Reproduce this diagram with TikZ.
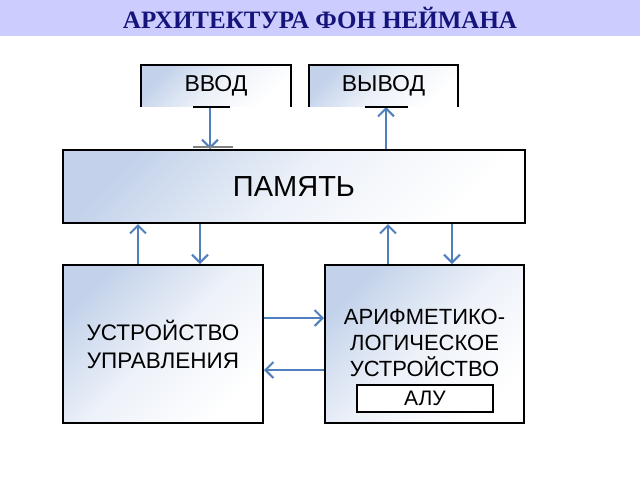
\documentclass[tikz,border=0pt]{standalone}
\usepackage{fontspec}
\setmainfont{Liberation Sans}
\newfontfamily\titlefont{Liberation Serif}
\usepackage{tikz}
\usetikzlibrary{arrows.meta,calc}
\definecolor{bandcol}{HTML}{CCCCFF}
\definecolor{titlecol}{HTML}{14147A}
\definecolor{flowcol}{HTML}{4F7FBD}
\definecolor{shadecol}{HTML}{C3D2EA}

\begin{document}
\begin{tikzpicture}[x=1pt,y=-1pt,
  unit/.style={shade,shading=axis,top color=shadecol,bottom color=white,middle color=white!70!shadecol,shading angle=45,
    line width=2pt,align=center,inner sep=0pt},
  flow/.style={draw=flowcol,line width=2.4pt,-{Straight Barb[length=8pt,width=16pt,line width=2pt]}},
  stub/.style={line width=1.6pt}]
\useasboundingbox (0,0) rectangle (640,480);
\fill[bandcol] (0,0) rectangle (640,36);
\node[font=\titlefont\bfseries\fontsize{25}{28}\selectfont,text=titlecol] (title) at (320,18) {АРХИТЕКТУРА ФОН НЕЙМАНА};

\node[unit,minimum width=148pt,minimum height=40pt,font=\fontsize{23}{26}\selectfont] (in) at (216,86) {ВВОД};
\node[unit,minimum width=147pt,minimum height=40pt,font=\fontsize{23}{26}\selectfont] (out) at (383.5,86) {ВЫВОД};
\draw[line width=2pt] (in.south west) |- (in.north) -| (in.south east);
\draw[line width=2pt] (out.south west) |- (out.north) -| (out.south east);

\node[unit,draw,minimum width=462pt,minimum height=73pt,font=\fontsize{29}{32}\selectfont] (mem) at (294,186.5) {ПАМЯТЬ};

\node[unit,draw,minimum width=200pt,minimum height=158pt,font=\fontsize{22.5}{28}\selectfont] (cu) at (163,344) {УСТРОЙСТВО\\УПРАВЛЕНИЯ};
\node[unit,draw,minimum width=199pt,minimum height=158pt] (alu) at (424.5,344) {};
\node[font=\fontsize{22}{26}\selectfont,align=center] (alutext) at (424.5,343) {АРИФМЕТИКО-\\ЛОГИЧЕСКОЕ\\УСТРОЙСТВО};
\node[draw,fill=white,line width=2pt,minimum width=136pt,minimum height=27pt,inner sep=0pt,font=\fontsize{21}{24}\selectfont] (alubox) at (425,398.5) {АЛУ};

\draw[flow] ([xshift=-6pt]in.south) -- ([xshift=-6pt]in.south |- mem.north);
\draw[flow] ([xshift=2.5pt]out.south |- mem.north) -- ([xshift=2.5pt]out.south);
\draw[stub] ([xshift=-23pt]in.south) -- ([xshift=14pt]in.south);
\draw[stub,gray] ([xshift=-23pt]in.south |- mem.north) ++(0,-2) -- ++(40,0);
\draw[stub] ([xshift=-18.5pt]out.south) -- ([xshift=24.5pt]out.south);

\draw[flow] ([xshift=-25pt]cu.north) -- ([xshift=-25pt]cu.north |- mem.south);
\draw[flow] ([xshift=37pt]cu.north |- mem.south) -- ([xshift=37pt]cu.north);
\draw[flow] ([xshift=-36.5pt]alu.north) -- ([xshift=-36.5pt]alu.north |- mem.south);
\draw[flow] ([xshift=27.5pt]alu.north |- mem.south) -- ([xshift=27.5pt]alu.north);

\draw[flow] ([yshift=26pt]cu.east) -- ([yshift=26pt]cu.east -| alu.west);
\draw[flow] ([yshift=-26pt]cu.east -| alu.west) -- ([yshift=-26pt]cu.east);
\end{tikzpicture}
\end{document}
